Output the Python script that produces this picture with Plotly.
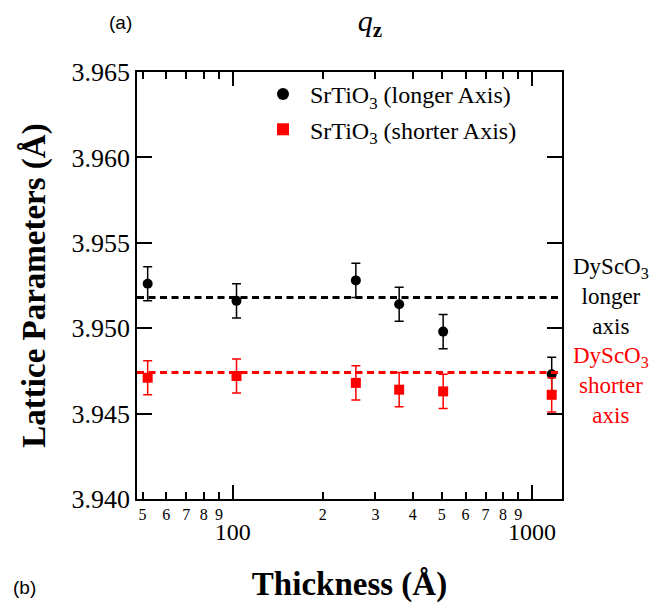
import math
import plotly.graph_objects as go

# Film thickness (Å) of each SrTiO3 sample
thickness = [52, 103, 258, 360, 505, 1164]

# In-plane lattice parameters (Å) along the two substrate directions
longer_axis = [3.9526, 3.9516, 3.9528, 3.9514, 3.9498, 3.9473]
longer_err = [0.0010, 0.0010, 0.0010, 0.0010, 0.0010, 0.0010]
shorter_axis = [3.9471, 3.9472, 3.9468, 3.9464, 3.9463, 3.9461]
shorter_err = [0.0010, 0.0010, 0.0010, 0.0010, 0.0010, 0.0010]

# DyScO3 substrate reference values (Å)
dyscO3_longer = 3.9518
dyscO3_shorter = 3.9474

# Axis extents and tick labelling
x_range = [47.9, 1260]
y_range = [3.940, 3.965]
minor_vals = [50, 60, 70, 80, 90, 200, 300, 400, 500, 600, 700, 800, 900]
minor_text = ["5", "6", "7", "8", "9", "2", "3", "4", "5", "6", "7", "8", "9"]
major_vals = [100, 1000]
major_text = ["100", "1000"]

log_range = [math.log10(v) for v in x_range]

SERIF = "Liberation Serif"
SANS = "Liberation Sans"
RED = "#ff0000"

fig = go.Figure()

fig.add_trace(go.Scatter(
    x=thickness, y=longer_axis, mode="markers",
    name="SrTiO<sub>3</sub> (longer Axis)",
    marker=dict(symbol="circle", size=10, color="black"),
    error_y=dict(type="data", array=longer_err, color="black", thickness=1.5, width=4.5),
    legendgroup="a",
))
# shorter-axis series sits on the overlaid decade axis (same range), drawn on top
fig.add_trace(go.Scatter(
    x=thickness, y=shorter_axis, mode="markers", xaxis="x2",
    name="SrTiO<sub>3</sub> (shorter Axis)",
    marker=dict(symbol="square", size=10, color=RED),
    error_y=dict(type="data", array=shorter_err, color=RED, thickness=1.5, width=4.5),
    legendgroup="b",
))

# Substrate reference lines across the full width
for val, col in [(dyscO3_longer, "black"), (dyscO3_shorter, RED)]:
    fig.add_shape(type="line", xref="x domain", yref="y", x0=0, x1=1, y0=val, y1=val,
                  line=dict(color=col, width=3, dash="7px,4.5px"), layer="above")

axis_common = dict(showgrid=False, zeroline=False, showline=True, linecolor="black",
                   linewidth=1.5, tickcolor="black", tickwidth=1.5, ticks="inside",
                   automargin=False)

fig.update_layout(
    width=665, height=603,
    margin=dict(l=137, r=103, t=72, b=104),
    paper_bgcolor="white", plot_bgcolor="white",
    showlegend=True,
    legend=dict(x=0.28, xanchor="left", y=1.0, yanchor="top",
                font=dict(family=SERIF, size=24, color="black"),
                bgcolor="rgba(0,0,0,0)", itemwidth=44, itemsizing="constant",
                tracegroupgap=1),
    title=dict(text="<i>q</i><sub><b>z</b></sub>", x=370 / 665, xanchor="center",
               y=1 - 20 / 603, yanchor="middle", xref="container", yref="container",
               font=dict(family=SERIF, size=30, color="black")),
    xaxis=dict(type="log", range=log_range, tickmode="array", tickvals=minor_vals,
               ticktext=minor_text, ticklen=7, mirror="ticks",
               tickfont=dict(family=SERIF, size=16, color="black"),
               title=dict(text="<b>Thickness (Å)</b>", standoff=54,
                          font=dict(family=SERIF, size=33, color="black")),
               **axis_common),
    xaxis2=dict(type="log", range=log_range, overlaying="x", anchor="y", side="bottom",
                tickmode="array", tickvals=major_vals, ticktext=major_text, ticklen=14,
                mirror="ticks", ticklabelstandoff=10,
                tickfont=dict(family=SERIF, size=24, color="black"),
                **axis_common),
    yaxis=dict(range=y_range, tickmode="linear", tick0=3.940, dtick=0.005,
               tickformat=".3f", ticklen=15, mirror="ticks",
               tickfont=dict(family=SERIF, size=26, color="black"),
               title=dict(text="<b>Lattice Parameters (Å)</b>", standoff=16,
                          font=dict(family=SERIF, size=33, color="black")),
               **axis_common),
)

# Substrate labels to the right of the frame
fig.add_annotation(text="DyScO<sub>3</sub><br>longer<br>axis", xref="paper", yref="paper",
                   x=(611 - 137) / 425, y=(499 - 296) / 427, xanchor="center", yanchor="middle",
                   showarrow=False, align="center",
                   font=dict(family=SERIF, size=23, color="black"))
fig.add_annotation(text="DyScO<sub>3</sub><br>shorter<br>axis", xref="paper", yref="paper",
                   x=(611 - 137) / 425, y=(499 - 386) / 427, xanchor="center", yanchor="middle",
                   showarrow=False, align="center",
                   font=dict(family=SERIF, size=23, color=RED))

# Panel markers
fig.add_annotation(text="(a)", xref="paper", yref="paper",
                   x=(120 - 137) / 425, y=(499 - 22) / 427, xanchor="center", yanchor="middle",
                   showarrow=False, font=dict(family=SANS, size=19, color="black"))
fig.add_annotation(text="(b)", xref="paper", yref="paper",
                   x=(25 - 137) / 425, y=(499 - 587) / 427, xanchor="center", yanchor="middle",
                   showarrow=False, font=dict(family=SANS, size=19, color="black"))

fig.write_html("out.html")
